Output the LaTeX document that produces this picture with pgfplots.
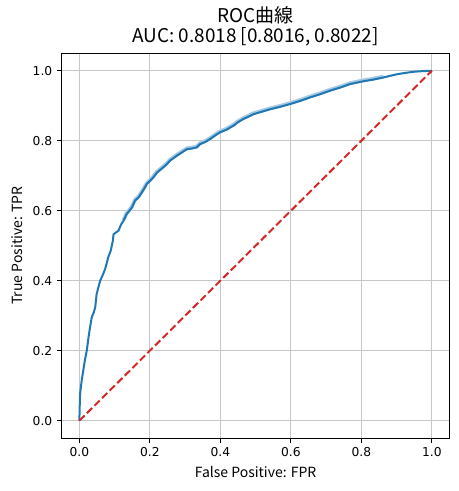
\documentclass[border=0pt]{standalone}
\usepackage{pgfplots}
\pgfplotsset{compat=1.18}
\usepackage{fontspec}
\setmainfont{DejaVu Sans}
\newfontfamily\jp{Noto Sans CJK JP}
\definecolor{tabblue}{HTML}{1F77B4}
\definecolor{tabred}{HTML}{D62728}
\definecolor{bandblue}{HTML}{A8CAE3}
\pgfplotstableread{
x y
0.000 0.000
0.001 0.040
0.002 0.076
0.006 0.110
0.011 0.143
0.016 0.175
0.021 0.200
0.026 0.238
0.030 0.265
0.035 0.295
0.041 0.310
0.045 0.324
0.049 0.362
0.055 0.385
0.059 0.400
0.067 0.418
0.073 0.433
0.082 0.467
0.089 0.486
0.095 0.514
0.097 0.533
0.104 0.538
0.111 0.543
0.118 0.560
0.125 0.571
0.134 0.590
0.142 0.600
0.149 0.609
0.158 0.629
0.168 0.638
0.177 0.652
0.185 0.665
0.191 0.676
0.205 0.690
0.212 0.698
0.220 0.709
0.238 0.724
0.248 0.733
0.257 0.743
0.276 0.757
0.290 0.766
0.305 0.776
0.320 0.778
0.333 0.781
0.342 0.790
0.358 0.797
0.371 0.805
0.385 0.815
0.399 0.824
0.418 0.832
0.437 0.843
0.450 0.853
0.465 0.862
0.480 0.869
0.494 0.876
0.518 0.883
0.541 0.890
0.570 0.897
0.598 0.905
0.627 0.914
0.655 0.924
0.683 0.933
0.711 0.943
0.740 0.952
0.768 0.962
0.806 0.970
0.835 0.975
0.863 0.981
0.901 0.990
0.925 0.994
0.948 0.997
0.975 0.999
1.000 1.000
}\roc
\begin{document}
\begin{tikzpicture}
\useasboundingbox (0,0) rectangle (343.5pt,368.25pt);
\begin{axis}[
  at={(46.3pt,39.6pt)}, anchor=south west,
  scale only axis, width=290.8pt, height=288.7pt,
  xmin=-0.05, xmax=1.05, ymin=-0.05, ymax=1.05,
  xtick={0,0.2,...,1.0}, ytick={0,0.2,...,1.0},
  xticklabel style={/pgf/number format/.cd,fixed,fixed zerofill,precision=1},
  yticklabel style={/pgf/number format/.cd,fixed,fixed zerofill,precision=1},
  /pgf/number format/assume math mode=true,
  ticklabel style={font=\fontsize{9.2}{11}\selectfont},
  tick align=outside, major tick length=3.6pt,
  tick style={black, line width=0.6pt},
  xtick pos=bottom, ytick pos=left,
  axis line style={black, line width=0.6pt},
  grid=major, major grid style={color=black!22, line width=0.6pt},
  title={\jp ROC曲線\\AUC: 0.8018 [0.8016, 0.8022]},
  title style={align=center, font=\jp\fontsize{14.2}{15.5}\selectfont, yshift=-4.5pt},
  xlabel={\jp False Positive: FPR},
  ylabel={\jp True Positive: TPR},
  label style={font=\jp\fontsize{10.5}{12}\selectfont},
  xlabel style={yshift=-0.5pt},
  ylabel style={yshift=1pt},
]
\addplot[color=bandblue, line width=2.8pt, yshift=0.7pt, restrict x to domain=0.12:0.9] table {\roc};
\addplot[color=tabblue, line width=1.5pt] table {\roc};
\addplot[color=tabred, line width=1.5pt, dash pattern=on 5.5pt off 2.5pt] coordinates {(0,0) (1,1)};
\end{axis}
\end{tikzpicture}
\end{document}
